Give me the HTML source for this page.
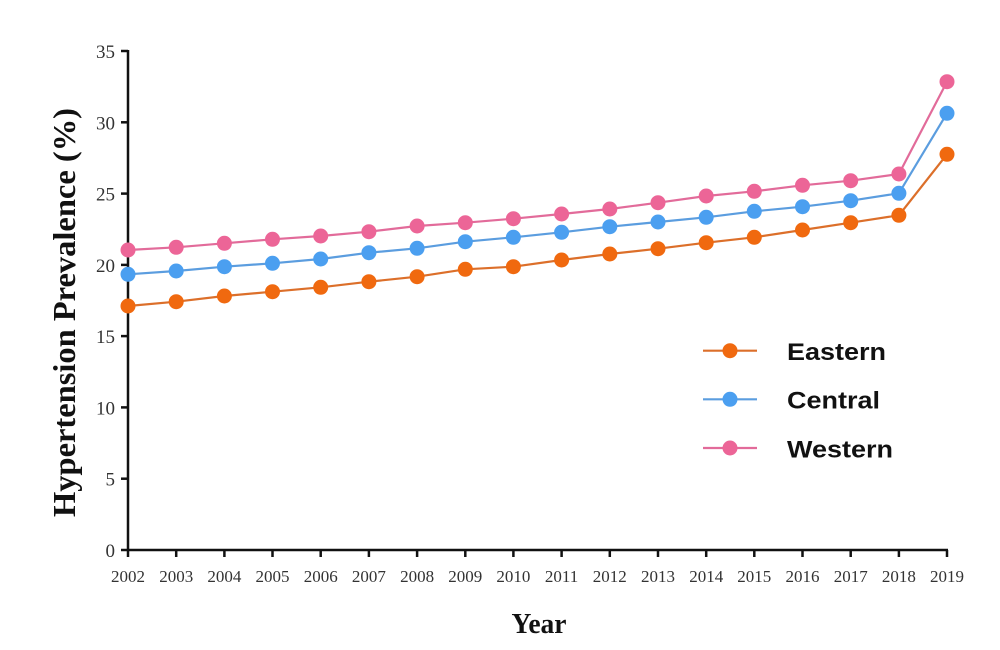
<!DOCTYPE html>
<html><head><meta charset="utf-8"><style>
html,body{margin:0;padding:0;background:#fff;}
svg{display:block;}
</style></head><body>
<svg width="1000" height="650" viewBox="0 0 1000 650" xmlns="http://www.w3.org/2000/svg">
<rect width="1000" height="650" fill="#ffffff"/>
<!-- axes -->
<g stroke="#111" stroke-width="2.5" fill="none">
<line x1="128" y1="50" x2="128" y2="551"/>
<line x1="127" y1="550" x2="948" y2="550"/>
<!-- y ticks -->
<line x1="121" y1="550" x2="128" y2="550"/>
<line x1="121" y1="478.7" x2="128" y2="478.7"/>
<line x1="121" y1="407.4" x2="128" y2="407.4"/>
<line x1="121" y1="336.1" x2="128" y2="336.1"/>
<line x1="121" y1="264.9" x2="128" y2="264.9"/>
<line x1="121" y1="193.6" x2="128" y2="193.6"/>
<line x1="121" y1="122.3" x2="128" y2="122.3"/>
<line x1="121" y1="51" x2="128" y2="51"/>
<!-- x ticks -->
<line x1="128" y1="550" x2="128" y2="557"/>
<line x1="176.2" y1="550" x2="176.2" y2="557"/>
<line x1="224.4" y1="550" x2="224.4" y2="557"/>
<line x1="272.5" y1="550" x2="272.5" y2="557"/>
<line x1="320.7" y1="550" x2="320.7" y2="557"/>
<line x1="368.9" y1="550" x2="368.9" y2="557"/>
<line x1="417.1" y1="550" x2="417.1" y2="557"/>
<line x1="465.3" y1="550" x2="465.3" y2="557"/>
<line x1="513.4" y1="550" x2="513.4" y2="557"/>
<line x1="561.6" y1="550" x2="561.6" y2="557"/>
<line x1="609.8" y1="550" x2="609.8" y2="557"/>
<line x1="658" y1="550" x2="658" y2="557"/>
<line x1="706.2" y1="550" x2="706.2" y2="557"/>
<line x1="754.3" y1="550" x2="754.3" y2="557"/>
<line x1="802.5" y1="550" x2="802.5" y2="557"/>
<line x1="850.7" y1="550" x2="850.7" y2="557"/>
<line x1="898.9" y1="550" x2="898.9" y2="557"/>
<line x1="947" y1="550" x2="947" y2="557"/>
</g>
<!-- y tick labels -->
<g font-family="Liberation Serif, serif" font-size="19" fill="#333" text-anchor="end">
<text x="115" y="557">0</text>
<text x="115" y="485.7">5</text>
<text x="115" y="414.4">10</text>
<text x="115" y="343.1">15</text>
<text x="115" y="271.9">20</text>
<text x="115" y="200.6">25</text>
<text x="115" y="129.3">30</text>
<text x="115" y="58">35</text>
</g>
<!-- x tick labels -->
<g font-family="Liberation Serif, serif" font-size="17" fill="#333" text-anchor="middle">
<text x="128" y="582">2002</text>
<text x="176.2" y="582">2003</text>
<text x="224.4" y="582">2004</text>
<text x="272.5" y="582">2005</text>
<text x="320.7" y="582">2006</text>
<text x="368.9" y="582">2007</text>
<text x="417.1" y="582">2008</text>
<text x="465.3" y="582">2009</text>
<text x="513.4" y="582">2010</text>
<text x="561.6" y="582">2011</text>
<text x="609.8" y="582">2012</text>
<text x="658" y="582">2013</text>
<text x="706.2" y="582">2014</text>
<text x="754.3" y="582">2015</text>
<text x="802.5" y="582">2016</text>
<text x="850.7" y="582">2017</text>
<text x="898.9" y="582">2018</text>
<text x="947" y="582">2019</text>
</g>
<!-- axis titles -->
<text x="539" y="633" font-family="Liberation Serif, serif" font-weight="bold" font-size="29" fill="#111" text-anchor="middle" textLength="55" lengthAdjust="spacingAndGlyphs">Year</text>
<text transform="translate(75,312.5) rotate(-90)" x="0" y="0" font-family="Liberation Serif, serif" font-weight="bold" font-size="32" fill="#111" text-anchor="middle" textLength="409" lengthAdjust="spacingAndGlyphs">Hypertension Prevalence (%)</text>

<!-- series lines -->
<polyline fill="none" stroke="#e26b9a" stroke-width="2.2" points="128,250 176.2,247.3 224.4,243.3 272.5,239.3 320.7,236 368.9,231.7 417.1,226 465.3,222.7 513.4,218.7 561.6,214 609.8,209 658,202.7 706.2,196 754.3,191.3 802.5,185.3 850.7,180.7 898.9,174 947,81.7"/>
<polyline fill="none" stroke="#5b9ddf" stroke-width="2.2" points="128,274.3 176.2,271 224.4,266.7 272.5,263.3 320.7,259 368.9,252.7 417.1,248.3 465.3,241.7 513.4,237.3 561.6,232.3 609.8,226.7 658,222 706.2,217.3 754.3,211.3 802.5,206.7 850.7,200.7 898.9,193.3 947,113.3"/>
<polyline fill="none" stroke="#dc6f2a" stroke-width="2.2" points="128,306 176.2,301.7 224.4,296 272.5,291.7 320.7,287.3 368.9,281.7 417.1,276.7 465.3,269.3 513.4,266.7 561.6,260 609.8,254 658,248.7 706.2,242.7 754.3,237.3 802.5,230 850.7,222.7 898.9,215.3 947,154.3"/>

<!-- markers -->
<g fill="#ec6597">
<circle cx="128" cy="250" r="7.5"/><circle cx="176.2" cy="247.3" r="7.5"/><circle cx="224.4" cy="243.3" r="7.5"/><circle cx="272.5" cy="239.3" r="7.5"/><circle cx="320.7" cy="236" r="7.5"/><circle cx="368.9" cy="231.7" r="7.5"/><circle cx="417.1" cy="226" r="7.5"/><circle cx="465.3" cy="222.7" r="7.5"/><circle cx="513.4" cy="218.7" r="7.5"/><circle cx="561.6" cy="214" r="7.5"/><circle cx="609.8" cy="209" r="7.5"/><circle cx="658" cy="202.7" r="7.5"/><circle cx="706.2" cy="196" r="7.5"/><circle cx="754.3" cy="191.3" r="7.5"/><circle cx="802.5" cy="185.3" r="7.5"/><circle cx="850.7" cy="180.7" r="7.5"/><circle cx="898.9" cy="174" r="7.5"/><circle cx="947" cy="81.7" r="7.5"/>
</g>
<g fill="#4b9ff0">
<circle cx="128" cy="274.3" r="7.5"/><circle cx="176.2" cy="271" r="7.5"/><circle cx="224.4" cy="266.7" r="7.5"/><circle cx="272.5" cy="263.3" r="7.5"/><circle cx="320.7" cy="259" r="7.5"/><circle cx="368.9" cy="252.7" r="7.5"/><circle cx="417.1" cy="248.3" r="7.5"/><circle cx="465.3" cy="241.7" r="7.5"/><circle cx="513.4" cy="237.3" r="7.5"/><circle cx="561.6" cy="232.3" r="7.5"/><circle cx="609.8" cy="226.7" r="7.5"/><circle cx="658" cy="222" r="7.5"/><circle cx="706.2" cy="217.3" r="7.5"/><circle cx="754.3" cy="211.3" r="7.5"/><circle cx="802.5" cy="206.7" r="7.5"/><circle cx="850.7" cy="200.7" r="7.5"/><circle cx="898.9" cy="193.3" r="7.5"/><circle cx="947" cy="113.3" r="7.5"/>
</g>
<g fill="#f0690f">
<circle cx="128" cy="306" r="7.5"/><circle cx="176.2" cy="301.7" r="7.5"/><circle cx="224.4" cy="296" r="7.5"/><circle cx="272.5" cy="291.7" r="7.5"/><circle cx="320.7" cy="287.3" r="7.5"/><circle cx="368.9" cy="281.7" r="7.5"/><circle cx="417.1" cy="276.7" r="7.5"/><circle cx="465.3" cy="269.3" r="7.5"/><circle cx="513.4" cy="266.7" r="7.5"/><circle cx="561.6" cy="260" r="7.5"/><circle cx="609.8" cy="254" r="7.5"/><circle cx="658" cy="248.7" r="7.5"/><circle cx="706.2" cy="242.7" r="7.5"/><circle cx="754.3" cy="237.3" r="7.5"/><circle cx="802.5" cy="230" r="7.5"/><circle cx="850.7" cy="222.7" r="7.5"/><circle cx="898.9" cy="215.3" r="7.5"/><circle cx="947" cy="154.3" r="7.5"/>
</g>

<!-- legend -->
<line x1="703" y1="350.7" x2="757" y2="350.7" stroke="#dc6f2a" stroke-width="2.2"/>
<circle cx="730" cy="350.7" r="7.5" fill="#f0690f"/>
<line x1="703" y1="399.3" x2="757" y2="399.3" stroke="#5b9ddf" stroke-width="2.2"/>
<circle cx="730" cy="399.3" r="7.5" fill="#4b9ff0"/>
<line x1="703" y1="448" x2="757" y2="448" stroke="#e26b9a" stroke-width="2.2"/>
<circle cx="730" cy="448" r="7.5" fill="#ec6597"/>
<g font-family="Liberation Sans, sans-serif" font-weight="bold" font-size="24" fill="#111">
<text x="787" y="360" textLength="99" lengthAdjust="spacingAndGlyphs">Eastern</text>
<text x="787" y="408.6" textLength="93" lengthAdjust="spacingAndGlyphs">Central</text>
<text x="787" y="457.3" textLength="106" lengthAdjust="spacingAndGlyphs">Western</text>
</g>
</svg>
</body></html>
